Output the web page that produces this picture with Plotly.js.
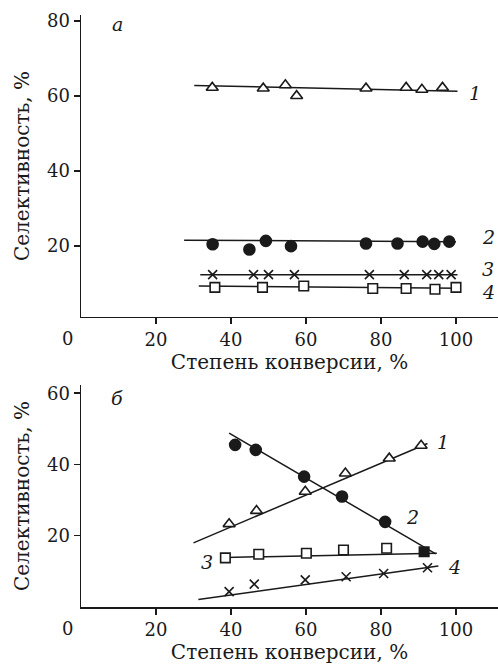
<!DOCTYPE html>
<html><head><meta charset="utf-8">
<script src="https://cdn.plot.ly/plotly-3.0.1.min.js"></script>
<style>html,body{margin:0;padding:0;background:#fff}#c{width:498px;height:668px}</style>
</head><body><div id="c"></div>
<script>
// Panel а
const a1x=[35,48.6,54.5,57.5,76,86.7,90.9,96.4];
const a1y=[62.2,62,62.9,60,62,62.2,61.7,62.2];
const a2x=[35.1,44.9,49.3,56,76,84.4,91.1,94.2,98.2];
const a2y=[20.4,19.0,21.3,19.9,20.6,20.6,21.1,20.5,21.1];
const a3x=[35.1,46,50,56.9,76.9,86.2,92.2,95.4,98.7];
const a3y=[12.3,12.3,12.3,12.3,12.3,12.3,12.3,12.3,12.3];
const a4x=[35.7,48.4,59.4,77.8,86.7,94.4,100];
const a4y=[8.9,8.9,9.25,8.6,8.6,8.4,8.9];
const a1fx=[30.2,100.4], a1fy=[62.8,61.25];
const a2fx=[27.5,100], a2fy=[21.5,21.1];
const a3fx=[31.8,100.4], a3fy=[12.3,12.3];
const a4fx=[31.4,101], a4fy=[9.25,8.7];
// Panel б
const b1x=[39.5,46.8,59.8,70.5,82.2,90.7];
const b1y=[23.3,27.0,32.4,37.5,41.7,45.3];
const b2x=[41.1,46.6,59.5,69.6,81.1];
const b2y=[45.5,44.1,36.6,31.0,23.9];
const b3x=[38.5,47.4,60.1,70,81.5];
const b3y=[13.8,14.8,15.1,16.0,16.5];
const b3endx=[91.5], b3endy=[15.5];
const b4x=[39.5,46.2,59.8,70.7,80.7,92.4];
const b4y=[4.3,6.4,7.6,8.5,9.4,11.0];
const b1fx=[30,92.4], b1fy=[18.0,45.9];
const b2fx=[39.5,94.6], b2fy=[48.8,14.9];
const b3fx=[38.5,94.9], b3fy=[13.9,15.1];
const b4fx=[31.3,95.3], b4fy=[2.1,11.5];

const xTicks=[20,40,60,80,100];
const aYTicks=[20,40,60,80];
const bYTicks=[20,40,60];
const xTitle='Степень конверсии, %';
const yTitle='Селективность, %';

const K='#1a1a1a';
const F='DejaVu Serif';
function line(x,y,xa,ya){return {x:x,y:y,xaxis:xa,yaxis:ya,mode:'lines',line:{color:K,width:1.5},hoverinfo:'skip'};}
function pts(x,y,xa,ya,sym,size,fill){return {x:x,y:y,xaxis:xa,yaxis:ya,mode:'markers',
  marker:{symbol:sym,size:size,color:fill?K:'#fff',line:{color:K,width:1.6}}};}

const data=[
  line(a1fx,a1fy,'x','y'),line(a2fx,a2fy,'x','y'),line(a3fx,a3fy,'x','y'),line(a4fx,a4fy,'x','y'),
  pts(a1x,a1y,'x','y','triangle-up',10.5,false),
  pts(a2x,a2y,'x','y','circle',11,true),
  pts(a3x,a3y,'x','y','x-thin',9,false),
  pts(a4x,a4y,'x','y','square',9.5,false),
  line(b1fx,b1fy,'x2','y2'),line(b2fx,b2fy,'x2','y2'),line(b3fx,b3fy,'x2','y2'),line(b4fx,b4fy,'x2','y2'),
  pts(b1x,b1y,'x2','y2','triangle-up',10.5,false),
  pts(b2x,b2y,'x2','y2','circle',11,true),
  pts(b3x,b3y,'x2','y2','square',9.5,false),
  pts(b3endx,b3endy,'x2','y2','square',9.5,true),
  pts(b4x,b4y,'x2','y2','x-thin',9,false)
];

const axBase={showline:true,linecolor:K,linewidth:1.5,ticks:'outside',ticklen:6,tickwidth:1.5,tickcolor:K,
  showgrid:false,zeroline:false,tickfont:{family:F,size:18,color:K},fixedrange:true};
function xa(anchor){return Object.assign({},axBase,{range:[0,111.2],tickvals:xTicks,anchor:anchor,
  title:{text:xTitle,font:{family:F,size:20,color:K},standoff:4}});}
function ya(dom,range,tv,anchor){return Object.assign({},axBase,{domain:dom,range:range,tickvals:tv,anchor:anchor,
  title:{text:yTitle,font:{family:F,size:20,color:K},standoff:12}});}

function lab(t,x,y,xr,yr){return {text:t,x:x,y:y,xref:xr,yref:yr,showarrow:false,
  font:{family:F,size:19,color:K,style:'italic'},xanchor:'center',yanchor:'middle'};}

const layout={
  width:498,height:668,margin:{l:81,r:0,t:15,b:61},paper_bgcolor:'#fff',plot_bgcolor:'#fff',
  showlegend:false,font:{family:F,color:K},
  xaxis:xa('y'),
  yaxis:ya([0.4899,1],[1,81.6],aYTicks,'x'),
  xaxis2:xa('y2'),
  yaxis2:ya([0,0.375],[0,62.3],bYTicks,'x2'),
  annotations:[
    lab('а',9.7,79.1,'x','y'),lab('б',9.7,58.7,'x2','y2'),
    lab('1',105,60.9,'x','y'),lab('2',108.6,22.3,'x','y'),lab('3',108.6,13.8,'x','y'),lab('4',108.6,7.7,'x','y'),
    lab('1',96.6,46.3,'x2','y2'),lab('2',88.3,25.3,'x2','y2'),lab('3',33.7,12.6,'x2','y2'),lab('4',99.5,11.2,'x2','y2'),
    {text:'0',x:0,y:1,xref:'x',yref:'y',showarrow:false,xanchor:'center',yanchor:'top',xshift:-14,yshift:-9,
     font:{family:F,size:18,color:K}},
    {text:'0',x:0,y:0,xref:'x2',yref:'y2',showarrow:false,xanchor:'center',yanchor:'top',xshift:-14,yshift:-9,
     font:{family:F,size:18,color:K}}
  ]
};
Plotly.newPlot('c',data,layout,{displayModeBar:false,staticPlot:true});
</script></body></html>
